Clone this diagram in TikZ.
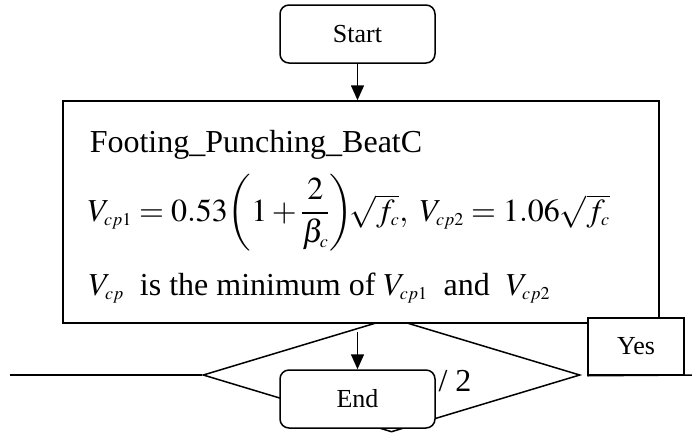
\documentclass[tikz,border=0pt]{standalone}
\usepackage{amsmath}
\usepackage{mathptmx}
\usepackage{fontspec}
\setmainfont{Liberation Serif}
\DeclareMathSizes{32}{32}{18}{14}
\usetikzlibrary{arrows.meta, shapes.geometric}

\begin{document}
\begin{tikzpicture}[x=1pt, y=-1pt, line width=1.5pt,
  >={Triangle[length=15pt, width=13pt]},
  termbox/.style={draw, fill=white, rounded corners=9pt, inner sep=0pt,
    minimum width=155pt, minimum height=58pt, font=\fontsize{26}{31}\selectfont},
  answerbox/.style={draw, fill=white, inner sep=0pt,
    minimum width=96pt, minimum height=57pt, font=\fontsize{26}{31}\selectfont},
  bigtext/.style={inner sep=0pt, font=\fontsize{32}{38}\selectfont}]

\useasboundingbox (0,0) rectangle (692,437);

% decision behind the process box
\node[diamond, draw, inner sep=0pt, minimum width=377pt, minimum height=114pt]
  (check) at (391.5,375) {};
\coordinate (leftend) at (10,375);
\coordinate (rightend) at (692,375);
\draw (leftend) -- (check.west);

% process box
\node[draw, fill=white, inner sep=0pt, minimum width=596pt, minimum height=222pt]
  (calc) at (361,212) {};

\node[bigtext, anchor=base west] (title) at (89,152) {Footing\_Punching\_BeatC};
\node[bigtext, anchor=west] (formula) at (87,213)
  {$V_{cp1}=0.53{\left(\rule[-30pt]{0pt}{76pt}1+\dfrac{2}{\beta_c}\right)}\!\sqrt{f_c},\ V_{cp2}=1.06\sqrt{f_c}$};
\node[bigtext, anchor=base west] (minline) at (88,295)
  {$V_{cp}$\ \ is the minimum of $V_{cp1}$\ \ and\ \ $V_{cp2}$};

% answer box and its line
\node[answerbox] (yes) at (636,346.5) {Yes};
\draw (yes.south west) -- (rightend);

% terminals
\node[termbox] (start) at (357.5,34) {Start};
\node[termbox] (end) at (357.5,399) {End};

\node[bigtext] (half) at (455,381) {/ 2};

% arrows
\draw[->] (start.south) -- (start.south |- calc.north);
\coordinate (tail) at (357.5,332);
\draw[->] (tail) -- (end.north);

\end{tikzpicture}
\end{document}
